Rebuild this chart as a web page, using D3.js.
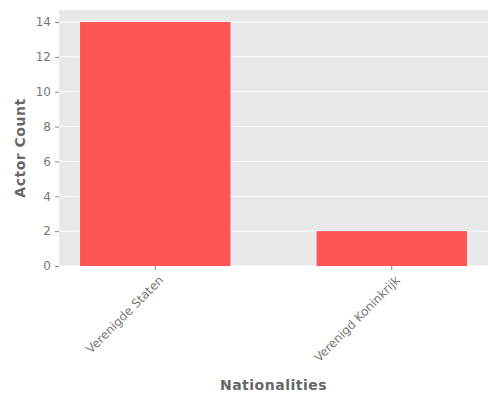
<!DOCTYPE html>
<html><head><meta charset="utf-8">
<script src="https://cdn.jsdelivr.net/npm/d3@7"></script>
<style>body{margin:0;background:#fff}text{font-family:"DejaVu Sans",sans-serif}</style>
</head><body><svg id="c" width="500" height="400"></svg>
<script>
const categories = ["Verenigde Staten", "Verenigd Koninkrijk"];
const counts = [14, 2];
const yTicks = [0, 2, 4, 6, 8, 10, 12, 14];

const svg = d3.select("#c");
const L = 59, R = 488, T = 10, B = 266;
const x = d3.scaleBand().domain(categories).range([L, R]).paddingInner(0.364).paddingOuter(0.089);
const y = d3.scaleLinear().domain([0, 14.69]).range([B, T]);

svg.append("rect").attr("x", L).attr("y", T).attr("width", R - L).attr("height", B - T).attr("fill", "#e9e9e9");
svg.selectAll(".g").data(yTicks).enter().append("line")
  .attr("x1", L).attr("x2", R).attr("y1", d => y(d)).attr("y2", d => y(d))
  .attr("stroke", "#fff").attr("stroke-width", 1);

svg.selectAll(".bar").data(categories).enter().append("rect")
  .attr("x", d => x(d)).attr("width", x.bandwidth())
  .attr("y", (d, i) => y(counts[i])).attr("height", (d, i) => B - y(counts[i]))
  .attr("fill", "#ff5454");

const ya = svg.append("g").attr("transform", `translate(${L},0)`)
  .call(d3.axisLeft(y).tickValues(yTicks).tickSize(4).tickPadding(4));
ya.select(".domain").remove();
ya.selectAll("line").attr("stroke", "#888");
ya.selectAll("text").attr("fill", "#777").attr("font-size", 12);

const xa = svg.append("g").attr("transform", `translate(0,${B})`)
  .call(d3.axisBottom(x).tickSize(4).tickPadding(6));
xa.select(".domain").remove();
xa.selectAll("line").attr("stroke", "#888");
xa.selectAll("text").attr("fill", "#777").attr("font-size", 12)
  .attr("text-anchor", "end").attr("dy", "0.35em").attr("y", 0)
  .attr("transform", "translate(6,12) rotate(-45)");

svg.append("text").attr("x", (L + R) / 2).attr("y", 390).attr("text-anchor", "middle")
  .attr("fill", "#666").attr("font-size", 14).attr("font-weight", "bold").attr("letter-spacing", 0.5).text("Nationalities");
svg.append("text").attr("transform", `translate(25,${(T + B) / 2 + 10}) rotate(-90)`).attr("text-anchor", "middle")
  .attr("fill", "#666").attr("font-size", 14).attr("font-weight", "bold").attr("letter-spacing", 0.5).text("Actor Count");
</script></body></html>
